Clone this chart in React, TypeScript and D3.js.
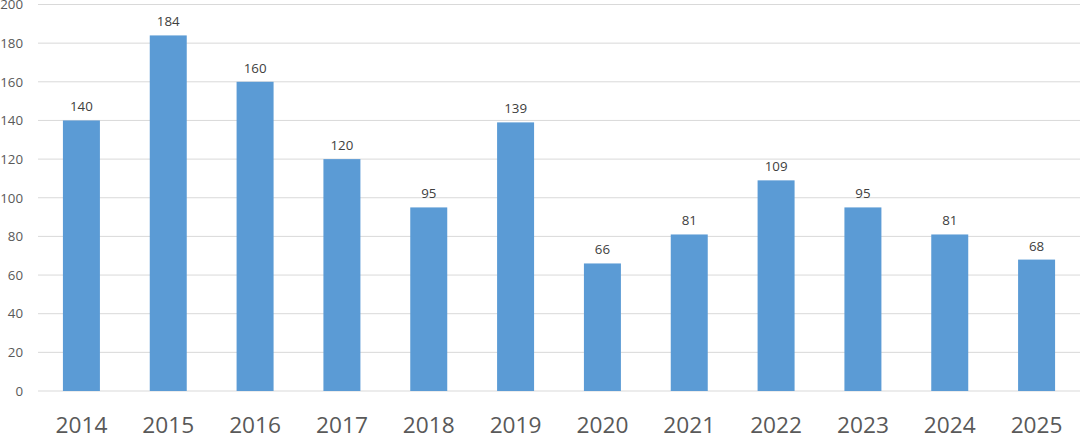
import React from "react";
import * as d3 from "d3";

const years = ["2014", "2015", "2016", "2017", "2018", "2019", "2020", "2021", "2022", "2023", "2024", "2025"];
const values = [140, 184, 160, 120, 95, 139, 66, 81, 109, 95, 81, 68];
const yTicks = [0, 20, 40, 60, 80, 100, 120, 140, 160, 180, 200];

const W = 1080;
const H = 434;
const left = 38;
const right = 1080;
const top = 4.5;
const bottom = 391;

export default function App() {
  const x = d3.scaleBand<string>().domain(years).range([left, right]).paddingInner(0.574).paddingOuter(0.287);
  const y = d3.scaleLinear().domain([0, 200]).range([bottom, top]);
  const font = "'Open Sans', 'Liberation Sans', sans-serif";
  return (
    <svg width={W} height={H} style={{ position: "absolute", left: 0, top: 0, background: "#fff" }}>
      <rect width={W} height={H} fill="#fff" />
      {yTicks.map((t) => (
        <g key={t}>
          <line x1={left} x2={right} y1={y(t)} y2={y(t)} stroke="#d9d9d9" strokeWidth={1} />
          <text x={23} y={y(t)} dy="0.36em" textAnchor="end" fontFamily={font} fontSize={13.3} fill="#595959">
            {t}
          </text>
        </g>
      ))}
      {years.map((yr, i) => (
        <g key={yr}>
          <rect x={x(yr)} y={y(values[i])} width={x.bandwidth()} height={bottom - y(values[i])} fill="#5b9bd5" />
          <text
            x={(x(yr) as number) + x.bandwidth() / 2}
            y={y(values[i]) - 9}
            textAnchor="middle"
            fontFamily={font}
            fontSize={13.3}
            fill="#404040"
          >
            {values[i]}
          </text>
          <text
            x={(x(yr) as number) + x.bandwidth() / 2}
            y={433}
            textAnchor="middle"
            fontFamily={font}
            fontSize={22.7}
            fill="#595959"
          >
            {yr}
          </text>
        </g>
      ))}
    </svg>
  );
}
